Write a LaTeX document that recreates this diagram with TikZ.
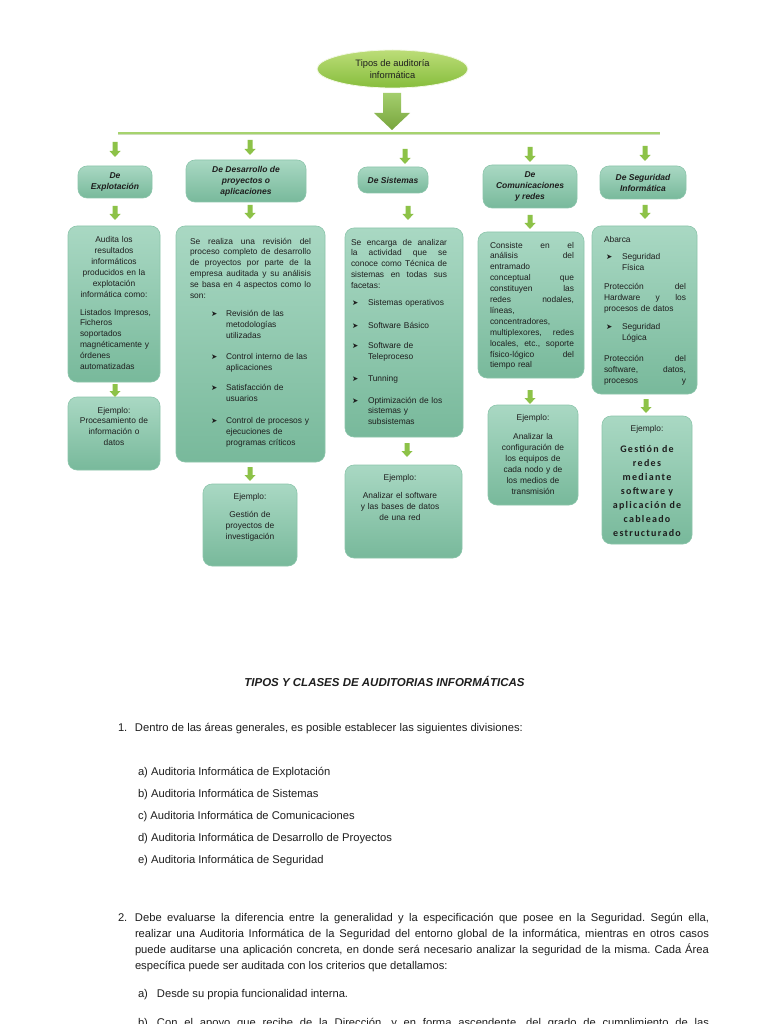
\documentclass[tikz,border=0pt]{standalone}
\usepackage{fontspec}
\setmainfont{Liberation Sans}
\newfontfamily\dejavu{DejaVu Sans}
\newfontfamily\carl{Carlito}[LetterSpace=13]
\usetikzlibrary{shapes.geometric}
\frenchspacing
\definecolor{boxtop}{HTML}{A9D8C3}
\definecolor{boxbot}{HTML}{78B99B}
\definecolor{boxedge}{HTML}{8CC5AB}
\definecolor{agreen}{HTML}{8DC248}
\definecolor{elltop}{HTML}{BCDD78}
\definecolor{ellbot}{HTML}{86BD3C}
\definecolor{lineg}{HTML}{A6D36E}
\definecolor{textc}{HTML}{1E1E1E}
\newcommand\bfnt{\fontsize{8.4}{10.9}\selectfont}
\newcommand\hfnt{\fontsize{8.5}{11}\selectfont\bfseries\itshape}
\newcommand\mfnt{\fontsize{11.2}{16}\selectfont}
\newcommand\fs{\rule{0pt}{8pt}}
\newcommand\J[2]{{\spaceskip=0pt\xspaceskip=0pt\makebox[#1pt][s]{#2}}}
\newcommand\bul{{\dejavu\fontsize{7.5}{7.5}\selectfont ➤}}
\newcommand\sarr[3]{\fill[agreen] (#1-2.5,#2) -- (#1+2.5,#2) -- (#1+2.5,#2+#3-6) -- (#1+5.5,#2+#3-6) -- (#1,#2+#3) -- (#1-5.5,#2+#3-6) -- (#1-2.5,#2+#3-6) -- cycle;}
\begin{document}
\begin{tikzpicture}[x=1pt,y=-1pt,
  box/.style={rectangle, rounded corners=9pt, top color=boxtop, bottom color=boxbot, draw=boxedge, line width=0.6pt, inner sep=0pt},
  hdr/.style={box, font=\hfnt, align=center, text=textc},
  txt/.style={inner sep=0pt, outer sep=0pt, text=textc, font=\bfnt},
  main/.style={inner sep=0pt, outer sep=0pt, text=textc, font=\mfnt, anchor=base west}]
\path[use as bounding box] (0,0) rectangle (768,1024);
\clip (0,0) rectangle (768,1024);
\fill[white] (0,0) rectangle (768,1024);

% top ellipse
\node[ellipse, top color=elltop, bottom color=ellbot, draw=white!80!elltop, line width=0.8pt, minimum width=151pt, minimum height=38pt, inner sep=0pt, align=center, font=\fontsize{9.3}{11.5}\selectfont, text=textc] (top) at (392.5,69) {Tipos de auditoría\\informática};
% big arrow
\shade[top color=agreen!80!white, bottom color=agreen!85!black] (383,93) -- (401,93) -- (401,113) -- (410,113) -- (392,130) -- (374,113) -- (383,113) -- cycle;
% horizontal line
\draw[lineg!80!black!40!white, line width=1pt] (118,135) -- (660,135);
\draw[lineg, line width=2pt] (118,133) -- (660,133);

% header boxes
\node[hdr, minimum width=74pt, minimum height=32pt] (h1) at (115,182) {De\\Explotación};
\node[hdr, minimum width=120pt, minimum height=42pt] (h2) at (246,181) {De Desarrollo de\\proyectos o\\aplicaciones};
\node[hdr, minimum width=70pt, minimum height=26pt] (h3) at (393,180) {De Sistemas};
\node[hdr, minimum width=94pt, minimum height=43pt] (h4) at (530,186.5) {De\\Comunicaciones\\y redes};
\node[hdr, minimum width=86pt, minimum height=33pt] (h5) at (643,182.5) {De Seguridad\\Informática};

% arrows to headers
\sarr{115}{142}{15}
\sarr{250}{140}{15}
\sarr{405}{149}{15}
\sarr{530}{147}{15}
\sarr{645}{146}{15}

% content boxes
\node[box, minimum width=92pt, minimum height=156pt] (c1) at (114,304) {};
\node[box, minimum width=149pt, minimum height=236pt] (c2) at (250.5,344) {};
\node[box, minimum width=118pt, minimum height=209pt] (c3) at (404,332.5) {};
\node[box, minimum width=106pt, minimum height=146pt] (c4) at (531,305) {};
\node[box, minimum width=105pt, minimum height=168pt] (c5) at (644.5,310) {};

% arrows header -> content
\sarr{115}{206}{14}
\sarr{250}{205}{14}
\sarr{408}{206}{14}
\sarr{530}{215}{14}
\sarr{645}{205}{14}

% example boxes
\node[box, minimum width=92pt, minimum height=73pt] (e1) at (114,433.5) {};
\node[box, minimum width=94pt, minimum height=82pt] (e2) at (250,525) {};
\node[box, minimum width=117pt, minimum height=93pt] (e3) at (403.5,511.5) {};
\node[box, minimum width=90pt, minimum height=100pt] (e4) at (533,455) {};
\node[box, minimum width=90pt, minimum height=128pt] (e5) at (647,480) {};

% arrows content -> example
\sarr{115}{384}{13}
\sarr{250}{467}{14}
\sarr{407}{443}{14}
\sarr{530}{390}{14}
\sarr{646}{399}{14}

% texts of content boxes
\node[txt, anchor=north, text width=88pt, align=center] (c1a) at (114,235) {\fs Audita los\\resultados\\informáticos\\producidos en la\\explotación\\informática como:};
\node[txt, anchor=north west, text width=78pt, align=left] (c1b) at (80,307) {\fs Listados Impresos,\\Ficheros\\soportados\\magnéticamente y\\órdenes\\automatizadas};

\node[txt, anchor=north west, text width=121pt, align=left] (c2t) at (190,236) {\fs\J{121}{Se realiza una revisión del}\\
\J{121}{proceso completo de desarrollo}\\
\J{121}{de proyectos por parte de la}\\
\J{121}{empresa auditada y su análisis}\\
\J{121}{se basa en 4 aspectos como lo}\\
son:\\[7pt]
\hspace*{21pt}\makebox[15pt][l]{\bul}Revisión de las\\
\hspace*{36pt}metodologías\\
\hspace*{36pt}utilizadas\\[10pt]
\hspace*{21pt}\makebox[15pt][l]{\bul}Control interno de las\\
\hspace*{36pt}aplicaciones\\[10pt]
\hspace*{21pt}\makebox[15pt][l]{\bul}Satisfacción de\\
\hspace*{36pt}usuarios\\[11pt]
\hspace*{21pt}\makebox[15pt][l]{\bul}Control de procesos y\\
\hspace*{36pt}ejecuciones de\\
\hspace*{36pt}programas críticos};

\node[txt, anchor=north west, text width=96pt, align=left] (c3t) at (351,237) {\fs\J{96}{Se encarga de analizar}\\
\J{96}{la actividad que se}\\
\J{96}{conoce como Técnica de}\\
\J{96}{sistemas en todas sus}\\
facetas:\\[6pt]
\hspace*{1pt}\makebox[16pt][l]{\bul}Sistemas operativos\\[12pt]
\hspace*{1pt}\makebox[16pt][l]{\bul}Software Básico\\[9pt]
\hspace*{1pt}\makebox[16pt][l]{\bul}Software de\\
\hspace*{17pt}Teleproceso\\[11pt]
\hspace*{1pt}\makebox[16pt][l]{\bul}Tunning\\[11pt]
\hspace*{1pt}\makebox[16pt][l]{\bul}Optimización de los\\
\hspace*{17pt}sistemas y\\
\hspace*{17pt}subsistemas};

\node[txt, anchor=north west, text width=84pt, align=left] (c4t) at (490,240) {\fs\J{84}{Consiste en el}\\
\J{84}{análisis del}\\
entramado\\
\J{84}{conceptual que}\\
\J{84}{constituyen las}\\
\J{84}{redes nodales,}\\
líneas,\\
concentradores,\\
\J{84}{multiplexores, redes}\\
\J{84}{locales, etc., soporte}\\
\J{84}{físico-lógico del}\\
tiempo real};

\node[txt, anchor=north west, text width=82pt, align=left] (c5t) at (604,234) {\fs Abarca\\[7pt]
\hspace*{2pt}\makebox[16pt][l]{\bul}Seguridad\\
\hspace*{18pt}Física\\[8pt]
\J{82}{Protección del}\\
\J{82}{Hardware y los}\\
procesos de datos\\[7pt]
\hspace*{2pt}\makebox[16pt][l]{\bul}Seguridad\\
\hspace*{18pt}Lógica\\[10pt]
\J{82}{Protección del}\\
\J{82}{software, datos,}\\
\J{82}{procesos y}};

% texts of example boxes
\node[txt, anchor=north, text width=90pt, align=center] (e1t) at (114,405) {\fs Ejemplo:\\Procesamiento de\\información o\\datos};
\node[txt, anchor=north, text width=90pt, align=center] (e2t) at (250,491) {\fs Ejemplo:\\[8pt]Gestión de\\proyectos de\\investigación};
\node[txt, anchor=north, text width=110pt, align=center] (e3t) at (400,472) {\fs Ejemplo:\\[8pt]Analizar el software\\y las bases de datos\\de una red};
\node[txt, anchor=north, text width=88pt, align=center] (e4t) at (533,412) {\fs Ejemplo:\\[9pt]Analizar la\\configuración de\\los equipos de\\cada nodo y de\\los medios de\\transmisión};
\node[txt, anchor=north, text width=88pt, align=center] (e5a) at (647,423) {\fs Ejemplo:};
\node[txt, anchor=north, text width=90pt, align=center, font=\carl\bfseries\fontsize{10}{14}\selectfont] (e5b) at (647,443.5) {\rule{0pt}{9pt}Gestión de\\redes\\mediante\\software y\\aplicación de\\cableado\\estructurado};

% bottom text
\node[main, anchor=base, font=\fontsize{11.5}{16}\selectfont\bfseries\itshape] (title) at (384.5,686) {TIPOS Y CLASES DE AUDITORIAS INFORMÁTICAS};
\node[main] (p1) at (118,731) {\makebox[17pt][l]{1.}Dentro de las áreas generales, es posible establecer las siguientes divisiones:};
\node[main] (la) at (138,775) {a) Auditoria Informática de Explotación};
\node[main] (lb) at (138,797) {b) Auditoria Informática de Sistemas};
\node[main] (lc) at (138,819) {c) Auditoria Informática de Comunicaciones};
\node[main] (ld) at (138,841) {d) Auditoria Informática de Desarrollo de Proyectos};
\node[main] (le) at (138,863) {e) Auditoria Informática de Seguridad};
\node[main] (p2a) at (118,921) {\makebox[17pt][l]{2.}\J{574}{Debe evaluarse la diferencia entre la generalidad y la especificación que posee en la Seguridad. Según ella,}};
\node[main] (p2b) at (135,937) {\J{574}{realizar una Auditoria Informática de la Seguridad del entorno global de la informática, mientras en otros casos}};
\node[main] (p2c) at (135,953) {\J{574}{puede auditarse una aplicación concreta, en donde será necesario analizar la seguridad de la misma. Cada Área}};
\node[main] (p2d) at (135,969) {específica puede ser auditada con los criterios que detallamos:};
\node[main] (qa) at (138,997) {\makebox[19pt][l]{a)}Desde su propia funcionalidad interna.};
\node[main] (qb) at (138,1026) {\makebox[19pt][l]{b)}\J{552}{Con el apoyo que recibe de la Dirección, y en forma ascendente, del grado de cumplimiento de las}};
\end{tikzpicture}
\end{document}
